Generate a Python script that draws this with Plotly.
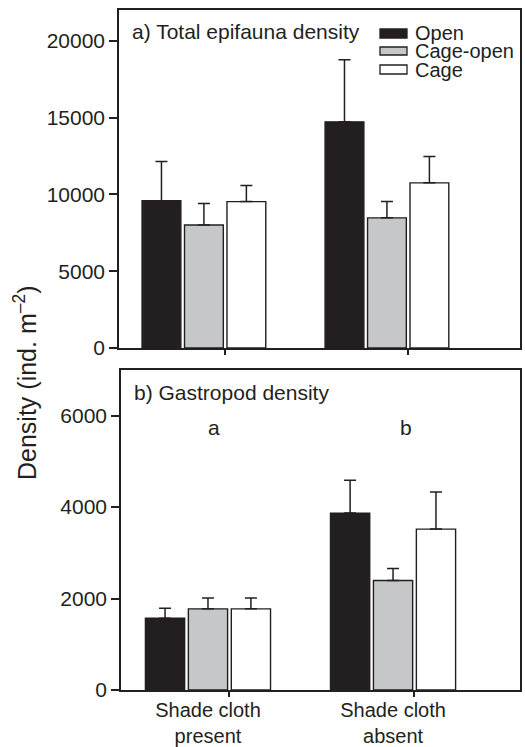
import plotly.graph_objects as go

# ---- data ----
groups = ["Shade cloth<br>present", "Shade cloth<br>absent"]
series = ["Open", "Cage-open", "Cage"]

total_mean = {"Open": [9580, 14720], "Cage-open": [8010, 8470], "Cage": [9530, 10750]}
total_se = {"Open": [2560, 4040], "Cage-open": [1390, 1060], "Cage": [1040, 1720]}

gastro_mean = {"Open": [1570, 3870], "Cage-open": [1775, 2395], "Cage": [1775, 3520]}
gastro_se = {"Open": [220, 720], "Cage-open": [240, 265], "Cage": [240, 810]}

total_ticks = [0, 5000, 10000, 15000, 20000]
gastro_ticks = [0, 2000, 4000, 6000]
sig_letters = ["a", "b"]

# ---- style ----
INK = "#231f20"
fills = {"Open": "#231f20", "Cage-open": "#c6c7c9", "Cage": "#ffffff"}
offsets = {"Open": -0.338, "Cage-open": -0.106, "Cage": 0.126}
BAR_W = 0.212
FONT = "Liberation Sans, Arial, Helvetica, sans-serif"

W, H = 525, 747
ML, MR, MT, MB = 119, 5, 10, 57
PW, PH = W - ML - MR, H - MT - MB


def px(x):
    return (x - ML) / PW


def py(y):
    return (H - MB - y) / PH


xpos = list(range(len(groups)))

fig = go.Figure()
for panel, (means, ses) in enumerate([(total_mean, total_se), (gastro_mean, gastro_se)]):
    xa = "x" if panel == 0 else "x2"
    ya = "y" if panel == 0 else "y2"
    for s in series:
        fig.add_trace(go.Bar(
            x=xpos, y=means[s], name=s, width=BAR_W, offset=offsets[s],
            marker=dict(color=fills[s], line=dict(color=INK, width=1.4)),
            error_y=dict(type="data", array=ses[s], arrayminus=[0] * len(ses[s]),
                         symmetric=False, color=INK, thickness=1.5, width=6),
            xaxis=xa, yaxis=ya, showlegend=False,
        ))

axis_common = dict(showline=True, linecolor=INK, linewidth=1.5, mirror=True,
                   showgrid=False, zeroline=False, automargin=False)
tick21 = dict(family=FONT, size=21, color=INK)

fig.update_layout(
    width=W, height=H,
    margin=dict(l=ML, r=MR, t=MT, b=MB, autoexpand=False),
    plot_bgcolor="white", paper_bgcolor="white",
    barmode="overlay",
    font=dict(family=FONT, color=INK),
    xaxis=dict(domain=[0, 1], anchor="y", range=[-0.464, 1.727],
               tickvals=xpos, ticktext=groups, showticklabels=False, ticks="",
               minor=dict(tickvals=[0.115, 1.115], ticks="outside", ticklen=5,
                          tickwidth=1.5, tickcolor=INK, showgrid=False),
               tickfont=tick21, **axis_common),
    yaxis=dict(domain=[py(348), 1], anchor="x", range=[0, 22000],
               tickvals=total_ticks, ticktext=[str(v) for v in total_ticks],
               ticks="outside", ticklen=8, tickwidth=1.5,
               tickcolor=INK, tickfont=tick21, **axis_common),
    xaxis2=dict(domain=[px(121), 1], anchor="y2", range=[-0.470, 1.686],
                tickvals=xpos, ticktext=groups, ticks="", ticklabelstandoff=1,
                minor=dict(tickvals=[0.114, 1.114], ticks="outside", ticklen=5,
                           tickwidth=1.5, tickcolor=INK, showgrid=False),
                tickfont=dict(family=FONT, size=20, color=INK), **axis_common),
    yaxis2=dict(domain=[0, py(370)], anchor="x2", range=[0, 7000],
                tickvals=gastro_ticks, ticktext=[str(v) for v in gastro_ticks],
                ticks="outside", ticklen=8, tickwidth=1.5,
                tickcolor=INK, tickfont=tick21, **axis_common),
)

ann = []
ann.append(dict(text="a) Total epifauna density", x=px(130), y=py(32), xref="paper", yref="paper",
                xanchor="left", yanchor="middle", showarrow=False,
                font=dict(family=FONT, size=21, color=INK)))
ann.append(dict(text="b) Gastropod density", x=px(132), y=py(392), xref="paper", yref="paper",
                xanchor="left", yanchor="middle", showarrow=False,
                font=dict(family=FONT, size=21, color=INK)))
for i, letter in enumerate(sig_letters):
    ann.append(dict(text=letter, x=[0.03, 1.07][i], y=5740, xref="x2", yref="y2",
                    xanchor="center", yanchor="middle", showarrow=False,
                    font=dict(family=FONT, size=21, color=INK)))
ann.append(dict(text="Density (ind. m<sup>–2</sup>)", x=px(25), y=py(383), xref="paper", yref="paper",
                xanchor="center", yanchor="middle", textangle=-90, showarrow=False,
                font=dict(family=FONT, size=25, color=INK)))

# legend drawn manually
shapes = []
leg_rows = [(29, 38, 33), (47, 55, 51), (65, 74, 70)]
for s, (y0, y1, yc) in zip(series, leg_rows):
    shapes.append(dict(type="rect", xref="paper", yref="paper",
                       x0=px(380), x1=px(407), y0=py(y1), y1=py(y0),
                       fillcolor=fills[s], line=dict(color=INK, width=1.3)))
    ann.append(dict(text=s, x=px(413), y=py(yc), xref="paper", yref="paper",
                    xanchor="left", yanchor="middle", showarrow=False,
                    font=dict(family=FONT, size=20, color=INK)))

fig.update_layout(annotations=ann, shapes=shapes)
fig.write_html("out.html")
